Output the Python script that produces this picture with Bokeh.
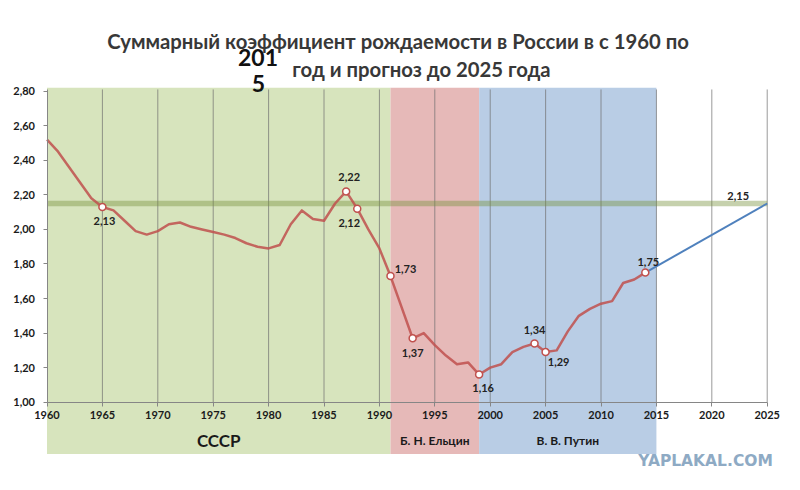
from bokeh.plotting import figure
from bokeh.models import Range1d, FixedTicker, CustomJSTickFormatter, Label, ColumnDataSource
from bokeh.core.properties import value
from bokeh.embed import file_html
from bokeh.resources import INLINE

# ---- data ----
years = list(range(1960, 2015))
tfr = [2.52, 2.45, 2.36, 2.27, 2.18, 2.13, 2.11, 2.05, 1.99, 1.97,
       1.99, 2.03, 2.04, 2.015, 2.00, 1.985, 1.97, 1.95, 1.92, 1.90,
       1.89, 1.91, 2.03, 2.11, 2.06, 2.05, 2.15, 2.22, 2.12, 2.00,
       1.89, 1.73, 1.55, 1.37, 1.40, 1.33, 1.27, 1.22, 1.23, 1.16,
       1.20, 1.22, 1.29, 1.32, 1.34, 1.29, 1.30, 1.41, 1.50, 1.54,
       1.57, 1.585, 1.69, 1.71, 1.75]
forecast_years = [2014, 2025]
forecast_vals = [1.75, 2.15]
replacement_level = 2.15
replacement_span = [1960, 2025]
marked_years = [1965, 1987, 1988, 1991, 1993, 1999, 2004, 2005, 2014]
era_names = ["СССР", "Б. Н. Ельцин", "В. В. Путин"]
era_start = [1960, 1991, 1999]
era_end = [1991, 1999, 2015]
x_ticks = list(range(1960, 2030, 5))
y_ticks = [1.0, 1.2, 1.4, 1.6, 1.8, 2.0, 2.2, 2.4, 2.6, 2.8]
title_line1 = "Суммарный коэффициент рождаемости в России в с 1960 по"
title_line2 = "год и прогноз до 2025 года"
title_year_a = "201"
title_year_b = "5"
watermark = "YAPLAKAL.COM"

# ---- styles ----
FONT = "Lato"
era_colors = ["#d7e4bd", "#e6b9b8", "#b9cde5"]
era_font_sizes = ["17px", "12px", "12px"]
mark_dx = [2, 3, -8, 15, 0, 4, 0, 13, 3]
mark_dy = [14, -14, 14, -7, 15, 13, -13, 10, -11]

W, H = 784, 474
p = figure(width=W, height=H, output_backend="svg", toolbar_location=None,
           x_range=Range1d(1955.803, 2026.56), y_range=Range1d(0.5816, 3.3249),
           min_border=0, min_border_left=0, min_border_right=0,
           min_border_top=0, min_border_bottom=0)
p.outline_line_color = None
p.background_fill_color = "white"
p.border_fill_color = "white"
p.xgrid.visible = False
p.ygrid.visible = False

# era bands
band_src = ColumnDataSource(dict(left=era_start, right=era_end, color=era_colors,
                                 mid=[(a + b) / 2 for a, b in zip(era_start, era_end)],
                                 name=era_names, fs=era_font_sizes))
p.quad(left="left", right="right", bottom=0.70, top=2.82, color="color",
       line_color=None, source=band_src)
p.text(x="mid", y=0.778, text="name", source=band_src, text_align="center",
       text_baseline="middle", text_font=value(FONT), text_font_style="bold",
       text_font_size="fs", text_color="#1a1a1a")

# vertical gridlines
gx = [t for t in x_ticks if t != x_ticks[0]]
p.segment(x0=gx, y0=[1.0] * len(gx), x1=gx, y1=[2.81] * len(gx),
          line_color="#6f6f6f", line_alpha=0.7, line_width=1)

# replacement line
p.line(replacement_span, [replacement_level] * 2, line_color="#76923c",
       line_alpha=0.42, line_width=5.5)

# main series
p.line(years, tfr, line_color="#c0504d", line_alpha=0.85, line_width=2.5,
       line_join="round")
# forecast
p.line(forecast_years, forecast_vals, line_color="#4f81bd", line_width=2)

mv = [tfr[years.index(y)] for y in marked_years]
p.scatter(marked_years, mv, size=7, marker="circle", fill_color="white",
          line_color="#c0504d", line_width=1.5)

lab_x = marked_years + [forecast_years[-1]]
lab_y = mv + [forecast_vals[-1]]
lab_t = [f"{v:.2f}".replace(".", ",") for v in lab_y]
p.text(x=lab_x, y=lab_y, text=lab_t, x_offset=mark_dx + [-29], y_offset=mark_dy + [-8],
       text_align="center", text_baseline="middle", text_font=value(FONT),
       text_font_style="bold", text_font_size="11px", text_color="#222222")

# axes
xa = p.xaxis[0]
xa.fixed_location = 1.0
xa.ticker = FixedTicker(ticks=x_ticks)
xa.bounds = (x_ticks[0], x_ticks[-1])
xa.axis_line_color = "#868686"
xa.major_tick_line_color = "#868686"
xa.major_tick_out = 4
xa.major_tick_in = 0
xa.minor_tick_line_color = None
xa.major_label_standoff = 5
xa.major_label_text_font = FONT
xa.major_label_text_font_style = "bold"
xa.major_label_text_font_size = "11px"
xa.major_label_text_color = "#1a1a1a"

ya = p.yaxis[0]
ya.fixed_location = 1960
ya.ticker = FixedTicker(ticks=y_ticks)
ya.bounds = (1.0, 2.81)
ya.formatter = CustomJSTickFormatter(code="return tick.toFixed(2).replace('.', ',');")
ya.axis_line_color = "#868686"
ya.major_tick_line_color = "#868686"
ya.major_tick_out = 4
ya.major_tick_in = 0
ya.minor_tick_line_color = None
ya.major_label_standoff = 8
ya.major_label_text_font = FONT
ya.major_label_text_font_style = "bold"
ya.major_label_text_font_size = "11px"
ya.major_label_text_color = "#1a1a1a"

# title texts (screen units, frame == whole figure)
p.add_layout(Label(x=397.5, y=434, x_units="screen", y_units="screen", text=title_line1,
                   text_align="center", text_baseline="alphabetic", text_font=FONT,
                   text_font_style="bold", text_font_size="20.3px", text_color="#383838"))
p.add_layout(Label(x=421, y=405.7, x_units="screen", y_units="screen", text=title_line2,
                   text_align="center", text_baseline="alphabetic", text_font=FONT,
                   text_font_style="bold", text_font_size="20.3px", text_color="#383838"))
p.add_layout(Label(x=257.5, y=417.3, x_units="screen", y_units="screen", text=title_year_a,
                   text_align="center", text_baseline="alphabetic", text_font=FONT,
                   text_font_style="bold", text_font_size="23px", text_color="#111111"))
p.add_layout(Label(x=258, y=390.7, x_units="screen", y_units="screen", text=title_year_b,
                   text_align="center", text_baseline="alphabetic", text_font=FONT,
                   text_font_style="bold", text_font_size="23px", text_color="#111111"))
p.add_layout(Label(x=705, y=13.5, x_units="screen", y_units="screen", text=watermark,
                   text_align="center", text_baseline="middle", text_font="DejaVu Sans",
                   text_font_style="bold", text_font_size="15.5px", text_color="#8eaac4"))

open("out.html", "w").write(file_html(p, INLINE))
